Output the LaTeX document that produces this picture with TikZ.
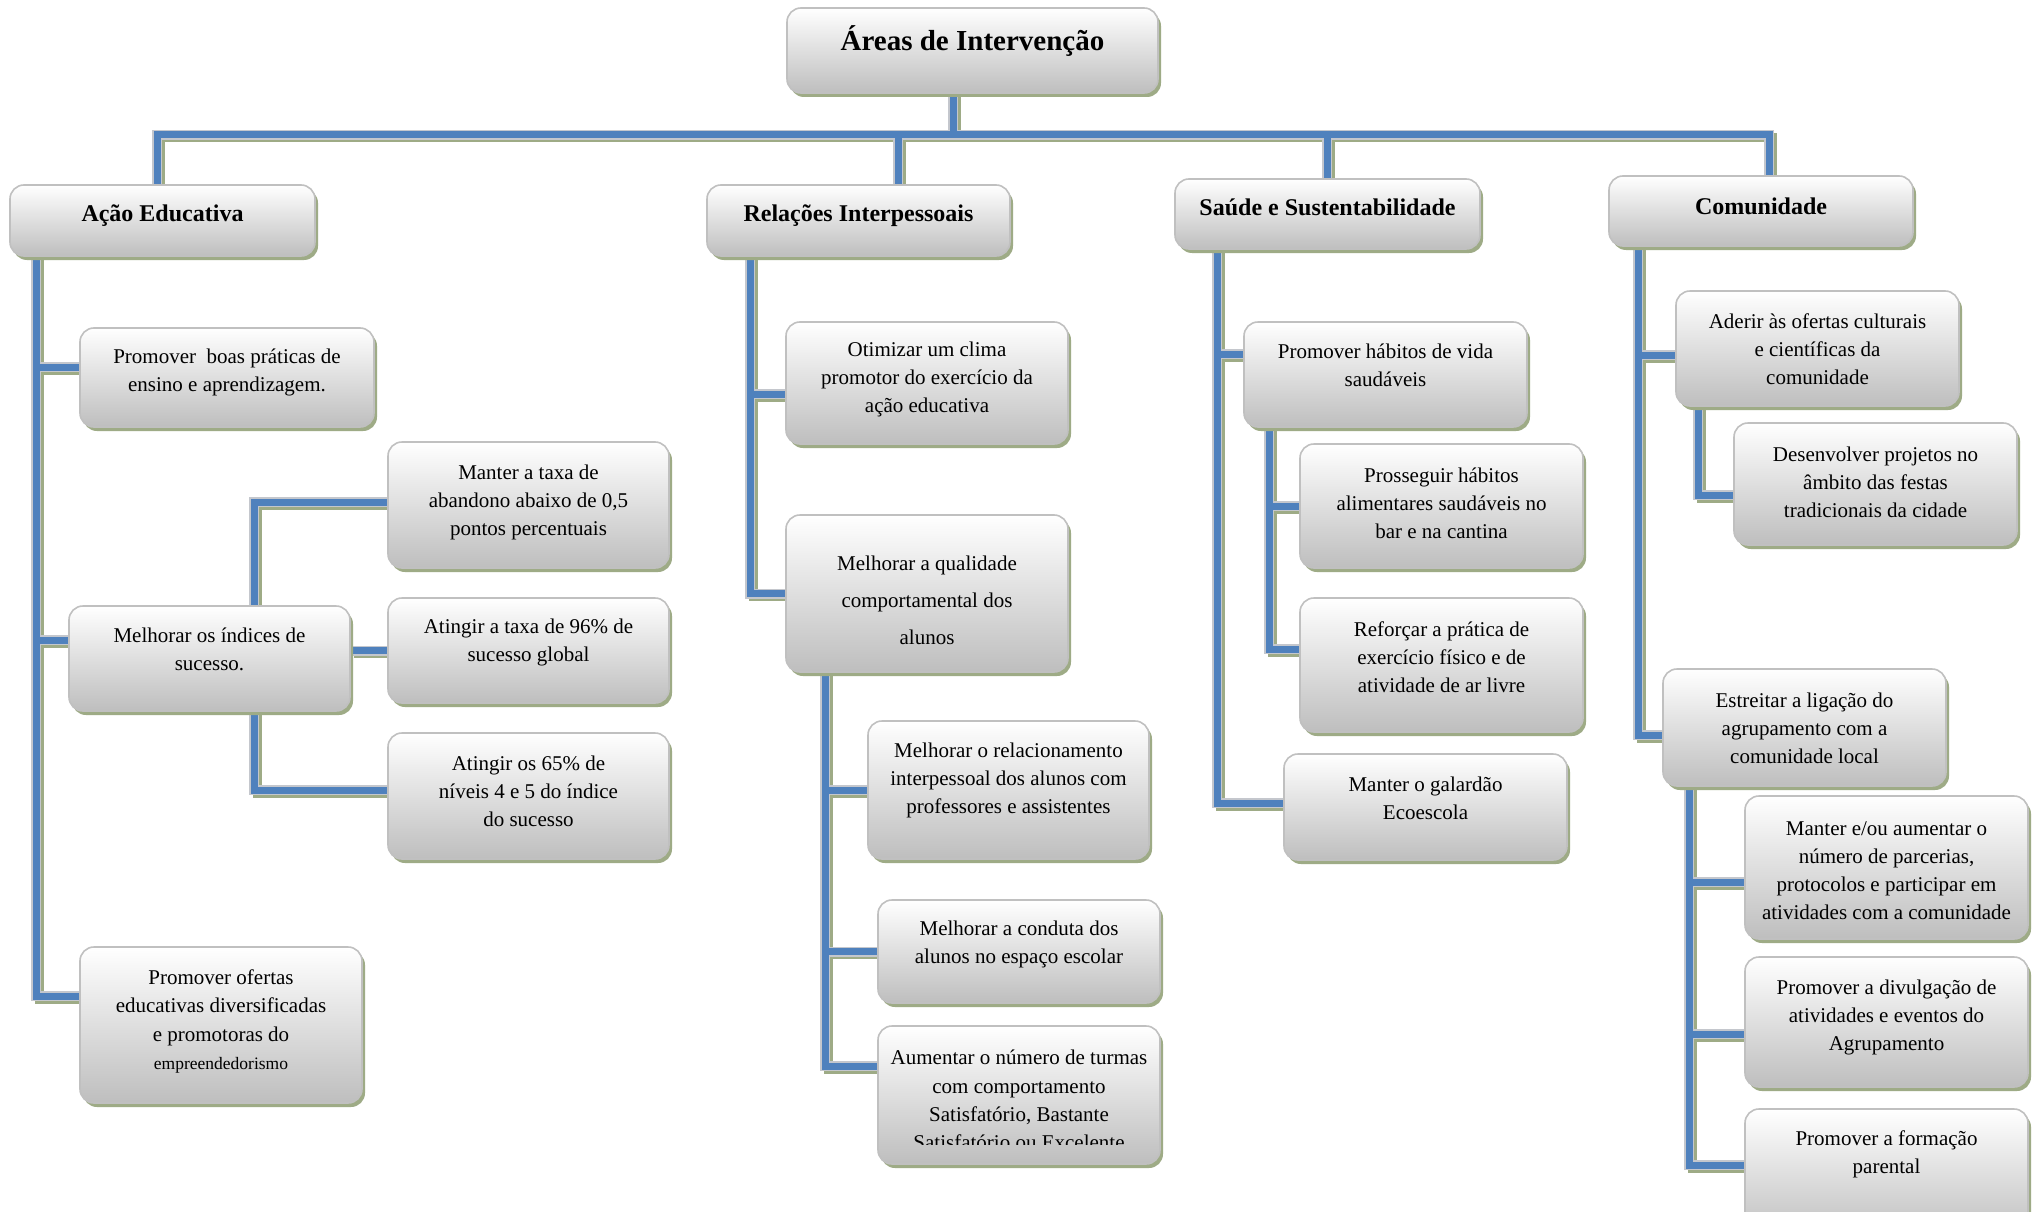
\documentclass[tikz,border=0pt]{standalone}
\usepackage{fontspec}
\setmainfont{Liberation Serif}
\usetikzlibrary{shadows,backgrounds}
\definecolor{connblue}{RGB}{79,129,189}
\definecolor{edgegray}{RGB}{196,199,205}
\definecolor{shadowcol}{RGB}{158,171,134}
\definecolor{boxedge}{RGB}{192,192,192}
\definecolor{boxbot}{RGB}{190,190,190}
\tikzset{
  box/.style={rounded corners=14pt, draw=boxedge, line width=1.6pt, top color=white, bottom color=boxbot,
     drop shadow={shadow xshift=3pt, shadow yshift=-4pt, fill=shadowcol, opacity=1}, inner sep=0pt},
  txt/.style={align=center, inner sep=0pt, font=\fontsize{21}{28.2}\selectfont},
  txtwide/.style={align=center, inner sep=0pt, font=\fontsize{21}{37}\selectfont},
  hdr/.style={align=center, inner sep=0pt, font=\bfseries\fontsize{24}{28}\selectfont},
  ttl/.style={align=center, inner sep=0pt, font=\bfseries\fontsize{29}{34}\selectfont},
  connshadow/.style={line width=9pt, draw=shadowcol, transform canvas={xshift=3pt, yshift=-3pt}},
  connedge/.style={line width=10pt, draw=edgegray},
  conncore/.style={line width=7pt, draw=connblue}
}
\newcommand{\mkbox}[8]{%
  \node[box, minimum width=#4pt, minimum height=#5pt] (#1) at (#2,#3) {};
  \node[#7] (#1-t) at (#2,{#6+2.5}) {#8};
}
\newcommand{\allconns}[1]{%
 \draw[#1] (title.south -| d0) -- (d0);
 \draw[#1] (d1 |- ae.north) -- (d1) -- (d4) -- (d4 |- co.north);
 \draw[#1] (d2) -- (d2 |- ri.north);
 \draw[#1] (d3) -- (d3 |- ss.north);
 \draw[#1] (ae.south -| ta) |- ([yshift=10.5pt]a1.west);
 \draw[#1] (ae.south -| ta) |- ([yshift=18.5pt]a2.west);
 \draw[#1] (ae.south -| ta) |- ([yshift=29pt]a3.west);
 \draw[#1] (a2.north -| tb) |- ([yshift=3pt]a21.west);
 \draw[#1] (a2.east |- a22.west) -- (a22.west);
 \draw[#1] (a2.south -| tb) |- ([yshift=6pt]a23.west);
 \draw[#1] (ri.south -| tr) |- ([yshift=-11pt]r1.west);
 \draw[#1] (ri.south -| tr) |- (r2.west);
 \draw[#1] (r2.south -| trr) |- (r21.west);
 \draw[#1] (r2.south -| trr) |- (r22.west);
 \draw[#1] (r2.south -| trr) |- ([yshift=29pt]r23.west);
 \draw[#1] (ss.south -| ts) |- ([yshift=20.5pt]s1.west);
 \draw[#1] (ss.south -| ts) |- ([yshift=4pt]s2.west);
 \draw[#1] (s1.south -| tss) |- (s11.west);
 \draw[#1] (s1.south -| tss) |- ([yshift=16pt]s12.west);
 \draw[#1] (co.south -| tc) |- ([yshift=-6.5pt]c1.west);
 \draw[#1] (co.south -| tc) |- ([yshift=-7.5pt]c2.west);
 \draw[#1] (c1.south -| tcA) |- ([yshift=-11pt]c11.west);
 \draw[#1] (c2.south -| tcB) |- ([yshift=-14.5pt]c21.west);
 \draw[#1] (c2.south -| tcB) |- ([yshift=-12pt]c22.west);
 \draw[#1] (c2.south -| tcB) |- ([yshift=9.5pt]c23.west);
}
\begin{document}
\begin{tikzpicture}[x=1pt, y=-1pt]
\useasboundingbox (0,0) rectangle (2034,1212);
\clip (0,0) rectangle (2034,1212);
% trunk coordinates
\coordinate (d0) at (953,135);
\coordinate (d1) at (157,135);
\coordinate (d2) at (898,135);
\coordinate (d3) at (1327,135);
\coordinate (d4) at (1769,135);
\coordinate (ta) at (36,0);
\coordinate (tb) at (254,0);
\coordinate (tr) at (750,0);
\coordinate (trr) at (825,0);
\coordinate (ts) at (1217,0);
\coordinate (tss) at (1269,0);
\coordinate (tc) at (1638,0);
\coordinate (tcA) at (1698,0);
\coordinate (tcB) at (1689,0);
% boxes
\mkbox{title}{972.5}{50.5}{371}{85}{39}{ttl}{Áreas de Intervenção}
\mkbox{ae}{162.5}{220.5}{305}{71}{213}{hdr}{Ação Educativa}
\mkbox{ri}{858.5}{220.5}{303}{71}{213}{hdr}{Relações Interpessoais}
\mkbox{ss}{1327.5}{214}{305}{70}{205}{hdr}{Saúde e Sustentabilidade}
\mkbox{co}{1761}{211}{304}{70}{204}{hdr}{Comunidade}
% Ação Educativa
\mkbox{a1}{227}{377.5}{294}{99}{370}{txt}{Promover\ \ boas práticas de\\ensino e aprendizagem.}
\mkbox{a2}{209.5}{658.5}{281}{105}{647}{txt}{Melhorar os índices de\\sucesso.}
\mkbox{a3}{221}{1025}{282}{156}{1019}{txt}{Promover ofertas\\educativas diversificadas\\e promotoras do\\{\fontsize{17.5}{28.2}\selectfont empreendedorismo}}
\mkbox{a21}{528.5}{505}{281}{126}{500}{txt}{Manter a taxa de\\abandono abaixo de 0,5\\pontos percentuais}
\mkbox{a22}{528.5}{650.5}{281}{105}{640}{txt}{Atingir a taxa de 96\% de\\sucesso global}
\mkbox{a23}{528.5}{796}{281}{126}{789}{txt}{Atingir os 65\% de\\níveis 4 e 5 do índice\\do sucesso}
% Relações Interpessoais
\mkbox{r1}{927}{383}{282}{122}{377}{txt}{Otimizar um clima\\promotor do exercício da\\ação educativa}
\mkbox{r2}{927}{593.5}{282}{157}{598}{txtwide}{Melhorar a qualidade\\comportamental dos\\alunos}
\mkbox{r21}{1008.5}{790}{281}{138}{778}{txt}{Melhorar o relacionamento\\interpessoal dos alunos com\\professores e assistentes}
\mkbox{r22}{1019}{951.5}{282}{103}{942}{txt}{Melhorar a conduta dos\\alunos no espaço escolar}
\node[box, minimum width=282pt, minimum height=138pt] (r23) at (1019,1095) {};
\begin{scope}
\clip (878,1020) rectangle (1160,1144);
\node[txt] (r23-t) at (1019,1100) {Aumentar o número de turmas\\com comportamento\\Satisfatório, Bastante\\Satisfatório ou Excelente};
\end{scope}
% Saúde e Sustentabilidade
\mkbox{s1}{1385.5}{374.5}{283}{105}{363}{txt}{Promover hábitos de vida\\saudáveis}
\mkbox{s11}{1441.5}{506}{283}{124}{501}{txt}{Prosseguir hábitos\\alimentares saudáveis no\\bar e na cantina}
\mkbox{s12}{1441.5}{665}{283}{134}{655}{txt}{Reforçar a prática de\\exercício físico e de\\atividade de ar livre}
\mkbox{s2}{1425.5}{807}{283}{106}{796}{txt}{Manter o galardão\\Ecoescola}
% Comunidade
\mkbox{c1}{1817.5}{348.5}{283}{115}{347}{txt}{Aderir às ofertas culturais\\e científicas da\\comunidade}
\mkbox{c11}{1875.5}{484}{283}{122}{480}{txt}{Desenvolver projetos no\\âmbito das festas\\tradicionais da cidade}
\mkbox{c2}{1804.5}{727.5}{283}{117}{726}{txt}{Estreitar a ligação do\\agrupamento com a\\comunidade local}
\mkbox{c21}{1886.5}{867.5}{283}{143}{868}{txt}{Manter e/ou aumentar o\\número de parcerias,\\protocolos e participar em\\atividades com a comunidade}
\mkbox{c22}{1886.5}{1022}{283}{130}{1015}{txt}{Promover a divulgação de\\atividades e eventos do\\Agrupamento}
\mkbox{c23}{1886.5}{1174.5}{283}{131}{1152}{txt}{Promover a formação\\parental}
% connectors
\begin{pgfonlayer}{background}
\fill[white] (0,0) rectangle (2034,1212);
\allconns{connshadow}
\allconns{connedge}
\allconns{conncore}
\end{pgfonlayer}
\end{tikzpicture}
\end{document}
